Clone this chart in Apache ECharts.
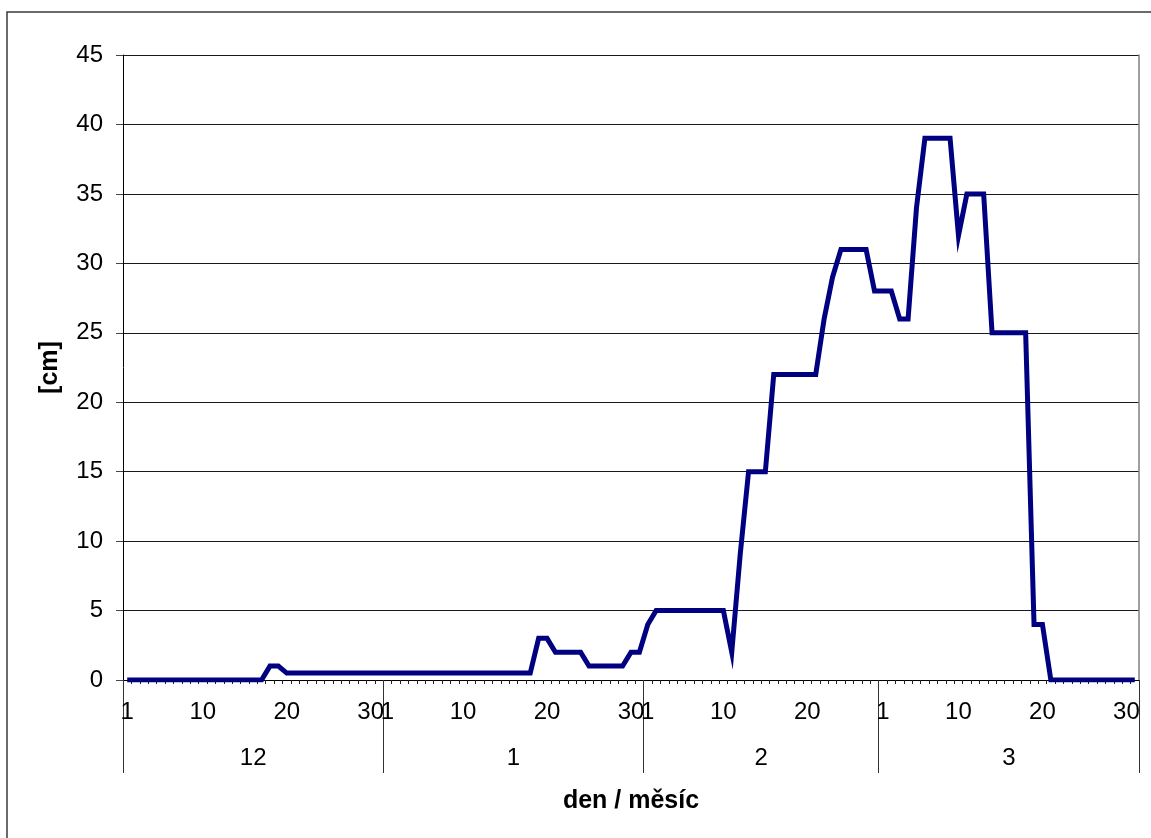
<!DOCTYPE html>
<html>
<head>
<meta charset="utf-8">
<script src="https://cdn.jsdelivr.net/npm/echarts@6/dist/echarts.min.js"></script>
<style>
  html, body { margin: 0; padding: 0; background: #fff; }
  #chart { width: 1151px; height: 838px; }
</style>
</head>
<body>
<div id="chart"></div>
<script>
// Winter months shown on the axis and the number of days in each
const monthLabels = ['12', '1', '2', '3'];
const monthDays = [31, 31, 28, 31];

// Daily snow depth [cm], one value per day of each month
const decDepth = [0, 0, 0, 0, 0, 0, 0, 0, 0, 0, 0, 0, 0, 0, 0, 0, 0, 1, 1, 0.5,
                  0.5, 0.5, 0.5, 0.5, 0.5, 0.5, 0.5, 0.5, 0.5, 0.5, 0.5];
const janDepth = [0.5, 0.5, 0.5, 0.5, 0.5, 0.5, 0.5, 0.5, 0.5, 0.5, 0.5, 0.5, 0.5, 0.5, 0.5, 0.5, 0.5, 0.5, 3, 3,
                  2, 2, 2, 2, 1, 1, 1, 1, 1, 2, 2];
const febDepth = [4, 5, 5, 5, 5, 5, 5, 5, 5, 5, 2, 9, 15, 15, 15, 22, 22, 22, 22, 22,
                  22, 26, 29, 31, 31, 31, 31, 28];
const marDepth = [28, 28, 26, 26, 34, 39, 39, 39, 39, 32, 35, 35, 35, 25, 25, 25, 25, 25, 4, 4,
                  0, 0, 0, 0, 0, 0, 0, 0, 0, 0, 0];

// Day numbers that carry a tick label
const dayTickLabels = [1, 10, 20, 30];
// Value axis ticks
const yMax = 45;
const yStep = 5;

const monthSeries = [decDepth, janDepth, febDepth, marDepth];

// One category per day, keyed "day/month"
const categories = [];
const depth = [];
monthLabels.forEach(function (m, mi) {
  for (let d = 1; d <= monthDays[mi]; d++) {
    categories.push(d + '/' + m);
    depth.push(monthSeries[mi][d - 1]);
  }
});

// Month boundaries and centres in day units
const monthEdges = [0];
const monthCentres = [];
monthDays.forEach(function (n) {
  const start = monthEdges[monthEdges.length - 1];
  monthCentres.push(start + n / 2);
  monthEdges.push(start + n);
});
const totalDays = monthEdges[monthEdges.length - 1];

const FONT = 'Liberation Sans, Arial, sans-serif';

const chart = echarts.init(document.getElementById('chart'), null, { renderer: 'canvas' });

chart.setOption({
  animation: false,
  backgroundColor: '#ffffff',
  textStyle: { fontFamily: FONT },
  graphic: [{
    type: 'rect',
    silent: true,
    z: -10,
    shape: { x: 7, y: 12, width: 1170, height: 850 },
    style: { fill: 'none', stroke: '#3a3a3a', lineWidth: 1.5 }
  }],
  grid: { left: 123, right: 12, top: 55, bottom: 158, containLabel: false },
  xAxis: [{
    type: 'category',
    data: categories,
    boundaryGap: true,
    position: 'bottom',
    axisLine: { show: true, lineStyle: { color: '#000', width: 1 } },
    axisTick: { show: true, interval: 0, length: 4, lineStyle: { color: '#222', width: 1 } },
    axisLabel: {
      show: true,
      hideOverlap: false,
      margin: 20,
      color: '#000',
      fontFamily: FONT,
      fontSize: 24,
      interval: function (index, value) {
        return dayTickLabels.indexOf(parseInt(value, 10)) >= 0;
      },
      formatter: function (value) { return value.split('/')[0]; }
    },
    splitLine: { show: false }
  }, {
    type: 'value',
    position: 'bottom',
    offset: 0,
    min: 0,
    max: totalDays,
    name: 'den / měsíc',
    nameLocation: 'middle',
    nameGap: 109,
    nameTextStyle: { color: '#000', fontFamily: FONT, fontSize: 25, fontWeight: 'bold' },
    axisLine: { show: false },
    axisTick: {
      show: true,
      customValues: monthEdges,
      length: 93,
      lineStyle: { color: '#333', width: 1 }
    },
    axisLabel: {
      show: true,
      customValues: monthCentres,
      margin: 66,
      color: '#000',
      fontFamily: FONT,
      fontSize: 24,
      formatter: function (v) {
        const i = monthCentres.indexOf(v);
        return i >= 0 ? monthLabels[i] : '';
      }
    },
    splitLine: { show: false }
  }],
  yAxis: [{
    type: 'value',
    min: 0,
    max: yMax,
    interval: yStep,
    name: '[cm]',
    nameLocation: 'middle',
    nameGap: 60,
    nameRotate: 90,
    nameTextStyle: { color: '#000', fontFamily: FONT, fontSize: 25, fontWeight: 'bold' },
    axisLine: { show: true, lineStyle: { color: '#000', width: 1 } },
    axisTick: { show: true, length: 7, lineStyle: { color: '#444', width: 1 } },
    axisLabel: { margin: 20, color: '#000', fontFamily: FONT, fontSize: 24 },
    splitLine: { show: true, lineStyle: { color: '#1a1a1a', width: 1 } }
  }, {
    type: 'value',
    position: 'right',
    min: 0,
    max: yMax,
    interval: yStep,
    axisLine: { show: true, lineStyle: { color: '#808080', width: 1.5 } },
    axisTick: { show: false },
    axisLabel: { show: false },
    splitLine: { show: false }
  }],
  series: [{
    type: 'line',
    xAxisIndex: 0,
    yAxisIndex: 0,
    data: depth,
    symbol: 'none',
    smooth: false,
    lineStyle: { color: '#000080', width: 5, join: 'miter', cap: 'butt' },
    z: 5
  }]
});
</script>
</body>
</html>
